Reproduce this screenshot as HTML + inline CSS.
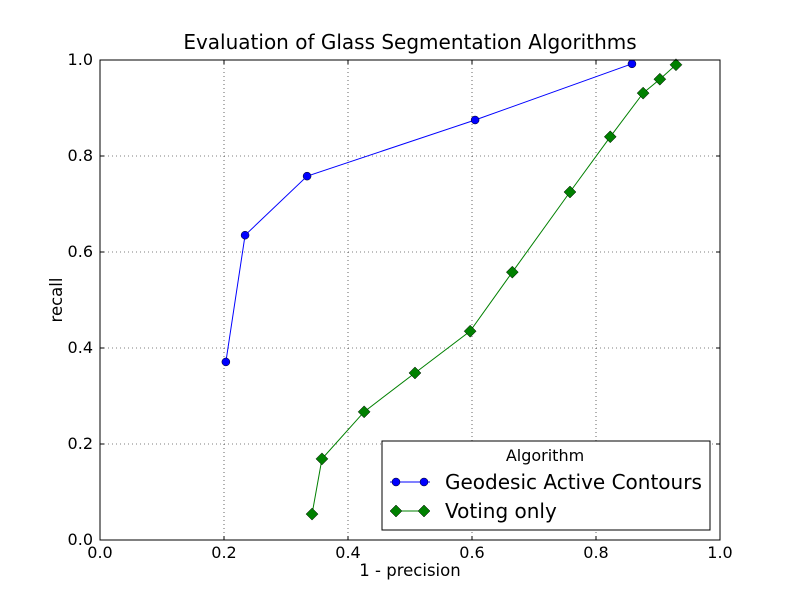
<!DOCTYPE html>
<html><head><meta charset="utf-8"><style>
body{margin:0;background:#fff;}
svg text{font-family:"DejaVu Sans","Liberation Sans",sans-serif;}
</style></head><body>
<svg width="800" height="600" xmlns="http://www.w3.org/2000/svg">
<rect width="800" height="600" fill="#fff"/>
<g id="grid"></g>
<g id="series"></g>
<rect x="100" y="60" width="620" height="480" fill="none" stroke="#000" stroke-width="1"/>
<g id="ticks"></g>
<text x="410" y="49" text-anchor="middle" font-size="20">Evaluation of Glass Segmentation Algorithms</text>
<text x="410" y="576" text-anchor="middle" font-size="16.5">1 - precision</text>
<text x="62" y="300" text-anchor="middle" font-size="16.5" transform="rotate(-90 62 300)">recall</text>
<g>
<rect x="382" y="441" width="328" height="89" fill="#fff" stroke="#000" stroke-width="1"/>
<text x="545" y="461" text-anchor="middle" font-size="16">Algorithm</text>
<g>
<line x1="390" y1="482" x2="430" y2="482" stroke="#0000ff"/>
<circle cx="396" cy="482" r="4" fill="#0000ff" stroke="#000" stroke-width="0.5"/>
<circle cx="424" cy="482" r="4" fill="#0000ff" stroke="#000" stroke-width="0.5"/>
<text x="445" y="489" font-size="20">Geodesic Active Contours</text>
</g>
<g>
<line x1="390" y1="511" x2="430" y2="511" stroke="#008000"/>
<polygon points="396,505 402,511 396,517 390,511" fill="#008000" stroke="#000" stroke-width="0.5"/>
<polygon points="424,505 430,511 424,517 418,511" fill="#008000" stroke="#000" stroke-width="0.5"/>
<text x="445" y="518" font-size="20">Voting only</text>
</g>
</g>
</svg>
<script>
const xTicks=[0,0.2,0.4,0.6,0.8,1.0];
const yTicks=[0,0.2,0.4,0.6,0.8,1.0];
const tickLabels=["0.0","0.2","0.4","0.6","0.8","1.0"];
const gacX=[0.203,0.234,0.334,0.605,0.858];
const gacY=[0.371,0.635,0.758,0.875,0.992];
const voteX=[0.342,0.358,0.426,0.508,0.597,0.665,0.758,0.823,0.876,0.903,0.929];
const voteY=[0.054,0.169,0.267,0.348,0.435,0.558,0.725,0.840,0.931,0.960,0.990];
const NS="http://www.w3.org/2000/svg";
const sx=v=>100+v*620, sy=v=>540-v*480;
function mk(t,a,p){const e=document.createElementNS(NS,t);for(const k in a)e.setAttribute(k,a[k]);p.appendChild(e);return e;}
const grid=document.getElementById('grid'),ticks=document.getElementById('ticks'),ser=document.getElementById('series');
xTicks.forEach((v,i)=>{
 const x=sx(v);
 if(i>0&&i<xTicks.length-1){const g=mk('line',{x1:x,y1:60,x2:x,y2:540,stroke:'#000','stroke-dasharray':'1,3','stroke-width':0.6},grid);
 
 }
 mk('line',{x1:x,y1:540,x2:x,y2:536,stroke:'#000'},ticks);
 mk('line',{x1:x,y1:60,x2:x,y2:64,stroke:'#000'},ticks);
 const t=mk('text',{x:x,y:558,'text-anchor':'middle','font-size':16},ticks);t.textContent=tickLabels[i];
 
 
});
yTicks.forEach((v,i)=>{
 const y=sy(v);
 if(i>0&&i<yTicks.length-1){const g=mk('line',{x1:100,y1:y,x2:720,y2:y,stroke:'#000','stroke-dasharray':'1,3','stroke-width':0.6},grid);
 
 }
 mk('line',{x1:100,y1:y,x2:104,y2:y,stroke:'#000'},ticks);
 mk('line',{x1:720,y1:y,x2:716,y2:y,stroke:'#000'},ticks);
 const t=mk('text',{x:93,y:y+5,'text-anchor':'end','font-size':16},ticks);t.textContent=tickLabels[i];
 
 
});
const pl1=mk('polyline',{points:gacX.map((v,i)=>sx(v)+','+sy(gacY[i])).join(' '),fill:'none',stroke:'#0000ff'},ser);


gacX.forEach((v,i)=>{const c=mk('circle',{cx:sx(v),cy:sy(gacY[i]),r:4,fill:'#0000ff',stroke:'#000','stroke-width':0.5},ser);
 
 });
const pl2=mk('polyline',{points:voteX.map((v,i)=>sx(v)+','+sy(voteY[i])).join(' '),fill:'none',stroke:'#008000'},ser);


voteX.forEach((v,i)=>{const x=sx(v),y=sy(voteY[i]);
 const p=mk('polygon',{points:`${x},${y-6} ${x+6},${y} ${x},${y+6} ${x-6},${y}`,fill:'#008000',stroke:'#000','stroke-width':0.5},ser);
 
 });
</script>
</body></html>
